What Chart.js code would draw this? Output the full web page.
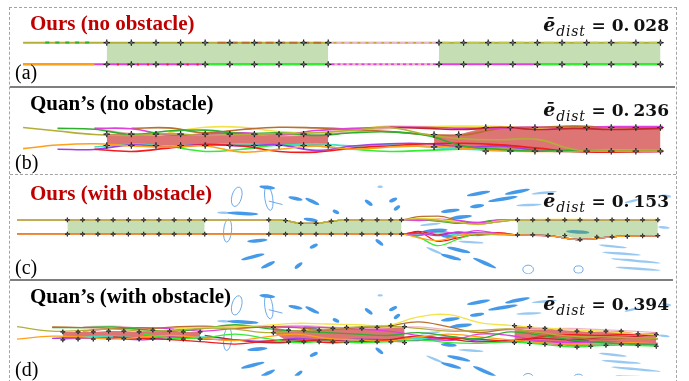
<!DOCTYPE html>
<html>
<head>
<meta charset="utf-8">
<script src="https://cdn.jsdelivr.net/npm/chart.js@4.4.1/dist/chart.umd.min.js"></script>
<style>
  html, body { margin: 0; padding: 0; background: #fff; }
  #fig { position: relative; width: 689px; height: 381px; overflow: hidden; background: #fff; }
  #fig canvas { position: absolute; }
  .frame { position: absolute; left: 9px; top: 7px; width: 666px; height: 380px;
           border: 1px dashed #a3a3a3; border-bottom: none; }
  .solid { position: absolute; left: 10px; height: 2px; background: #7f7f7f; }
  .dash  { position: absolute; left: 10px; width: 666px; border-top: 1px dashed #a3a3a3; }
  .title { position: absolute; left: 30px; font-family: "Liberation Serif", "Times New Roman", serif;
           font-weight: bold; font-size: 21px; line-height: 21px; white-space: nowrap; }
  .red { color: #c00000; }
  .tag { position: absolute; left: 15px; font-family: "Liberation Serif", "Times New Roman", serif;
         font-size: 20px; line-height: 20px; }
  .err { position: absolute; right: 20px; font-family: "DejaVu Serif", serif; font-weight: bold;
         font-size: 17px; line-height: 17px; white-space: nowrap; color: #111; }
  .err .e { font-style: italic; font-size: 19px; }
  .err .sub { font-size: 14px; font-weight: normal; font-style: italic; position: relative; top: 5px;
              line-height: 0; letter-spacing: 0.8px; margin-left: 1px; }
  .err .gap { margin-left: 4px; }
</style>
</head>
<body>
<div id="fig">
  <div class="frame"></div>
  <div class="solid" style="top:86px;width:665px"></div>
  <div class="dash" style="top:174px"></div>
  <div class="solid" style="top:279px;width:663px"></div>

  <canvas id="pa" width="666" height="78"  style="left:10px;top:8px"></canvas>
  <canvas id="pb" width="666" height="86"  style="left:10px;top:88px"></canvas>
  <canvas id="pc" width="666" height="104" style="left:10px;top:175px"></canvas>
  <canvas id="pd" width="666" height="100" style="left:10px;top:281px"></canvas>

  <div class="title red" style="top:13.4px">Ours (no obstacle)</div>
  <div class="title" style="top:93.4px">Quan’s (no obstacle)</div>
  <div class="title red" style="top:183.4px">Ours (with obstacle)</div>
  <div class="title" style="top:286.4px">Quan’s (with obstacle)</div>

  <div class="tag" style="top:62.3px">(a)</div>
  <div class="tag" style="top:152.3px">(b)</div>
  <div class="tag" style="top:257.3px">(c)</div>
  <div class="tag" style="top:359.3px">(d)</div>

  <div class="err" style="top:15.6px"><span class="e">ē</span><span class="sub">dist</span> = 0.<span class="gap">028</span></div>
  <div class="err" style="top:100.6px"><span class="e">ē</span><span class="sub">dist</span> = 0.<span class="gap">236</span></div>
  <div class="err" style="top:191.6px"><span class="e">ē</span><span class="sub">dist</span> = 0.<span class="gap">153</span></div>
  <div class="err" style="top:294.6px"><span class="e">ē</span><span class="sub">dist</span> = 0.<span class="gap">394</span></div>
</div>

<script>
// ---------------- colours of the robots ----------------
const OLIVE = '#b3ae38', GREEN = '#2fae2f', PINK = '#f2b5c8', MAGENTA = '#e040dc',
      BROWN = '#b8702c', YELLOW = '#f3e24c', ORANGE = '#ffa01c', PURPLE = '#a040e0',
      CYAN = '#3fe0c4', RED = '#f21c1c', LIME = '#34ec34', CRIMSON = '#c02830',
      YGREEN = '#c0c850';

// ---------------- (a) ours, no obstacle ----------------
// formation snapshots (x along the corridor, lateral y of the two rows)
const aForm1X = [4, 5, 6, 7, 8, 9, 10, 11, 12, 13];
const aForm2X = [17.5, 18.5, 19.5, 20.5, 21.5, 22.5, 23.5, 24.5, 25.5, 26.5];
const aFormTop = [0.5, 0.5, 0.5, 0.5, 0.5, 0.5, 0.5, 0.5, 0.5, 0.5];
const aFormBot = [-0.5, -0.5, -0.5, -0.5, -0.5, -0.5, -0.5, -0.5, -0.5, -0.5];
// robot traces (listed bottom layer first): start x, end x, lateral y
const aTrackColor = [OLIVE, BROWN, PINK, YGREEN, GREEN, MAGENTA, ORANGE, LIME, LIME, PINK, RED];
const aTrackStart = [0.6, 8.5, 13, 17.5, 1.5, 0.6, 0.6, 8, 21.5, 13, 4];
const aTrackEnd   = [26.6, 13, 17.5, 26.6, 3.5, 26.6, 3.5, 13, 26.6, 17.5, 8];
const aTrackY     = [0.5, 0.5, 0.49, 0.5, 0.51, -0.5, -0.5, -0.5, -0.5, -0.49, -0.51];
const aTrackDash  = [[], [8, 4], [5, 3], [10, 5], [4, 6], [], [], [], [], [3, 3], [2, 8]];

// ---------------- (b) Quan's, no obstacle ----------------
const bX = [0.6, 2, 3.5, 5, 6.5, 8, 9.5, 11, 12.5, 14, 15.5, 17, 18.5, 20, 21.5, 23, 24.5, 26.6];
const bOlive   = [0.54, 0.38, 0.22, 0.18, 0.26, 0.18, 0.22, 0.26, 0.3, 0.42, 0.54, 0.22, 0.02, -0.02, 0.0, -0.46, -0.54, -0.54];
const bGreen   = [null, 0.5, 0.46, 0.22, 0.38, 0.42, 0.26, 0.3, 0.18, 0.3, 0.34, 0.18, -0.3, -0.46, -0.54, -0.5, -0.54, -0.54];
const bPink    = [null, null, 0.5, 0.26, 0.2, 0.22, 0.26, 0.18, 0.22, 0.34, 0.5, 0.54, 0.54, 0.54, 0.54, 0.54, 0.54, 0.54];
const bMagenta = [null, null, 0.5, 0.48, 0.2, 0.24, 0.3, 0.2, 0.4, 0.5, 0.55, 0.55, 0.5, 0.52, 0.55, 0.5, 0.58, 0.58];
const bBrown   = [null, null, null, 0.5, 0.52, 0.3, 0.45, 0.55, 0.52, 0.45, 0.35, 0.22, 0.2, 0.5, 0.55, 0.6, 0.55, 0.52];
const bYellow  = [null, null, null, null, 0.3, 0.55, 0.55, 0.35, 0.3, 0.45, 0.6, 0.58, 0.6, 0.58, 0.5, 0.6, 0.55, 0.55];
const bOrange  = [-0.42, -0.26, -0.2, -0.3, -0.35, -0.3, -0.58, -0.45, -0.3, -0.45, -0.35, -0.3, -0.4, -0.52, -0.55, -0.55, -0.5, -0.52];
const bPurple  = [null, -0.45, -0.46, -0.25, -0.35, -0.22, -0.3, -0.25, -0.5, -0.3, -0.2, -0.2, -0.35, -0.3, -0.5, -0.55, -0.55, -0.55];
const bCyan    = [null, null, -0.35, -0.22, -0.3, -0.25, -0.2, -0.28, -0.2, -0.3, -0.25, -0.35, -0.45, -0.5, -0.52, -0.52, -0.5, -0.5];
const bRed     = [null, null, -0.45, -0.55, -0.4, -0.25, -0.3, -0.55, -0.58, -0.4, -0.3, -0.2, -0.18, -0.25, -0.4, -0.55, -0.58, -0.55];
const bLime    = [null, null, null, null, -0.3, -0.55, -0.45, -0.25, -0.3, -0.45, -0.55, -0.5, -0.45, -0.45, -0.5, -0.55, -0.54, -0.54];
const bCrimson = [null, null, null, null, null, null, null, null, null, null, 0.55, 0.5, 0.45, 0.55, 0.45, 0.5, 0.45, 0.5];
const bForm1X   = [4, 5, 6, 7, 8, 9, 10, 11, 12, 13];
const bForm1Top = [0.24, 0.24, 0.24, 0.24, 0.24, 0.24, 0.24, 0.24, 0.24, 0.24];
const bForm1Bot = [-0.28, -0.28, -0.28, -0.28, -0.28, -0.28, -0.28, -0.28, -0.28, -0.28];
const bForm2X   = [17.3, 18.3, 19.4, 20.4, 21.4, 22.4, 23.5, 24.5, 25.5, 26.5];
const bForm2Top = [0.22, 0.22, 0.54, 0.54, 0.54, 0.54, 0.54, 0.54, 0.54, 0.54];
const bForm2Bot = [-0.34, -0.34, -0.54, -0.54, -0.54, -0.54, -0.54, -0.54, -0.54, -0.54];

// ---------------- (c) ours, with obstacles ----------------
const cX = [0.7, 4, 13, 17.2, 18.3, 19.3, 20.3, 21.3, 22.3, 25.9, 27, 28.3, 29.6, 30.9, 32.2, 33.5, 35.5, 37.6, 39.7, 42.7];
const cOlive    = [0.5, 0.5, 0.5, 0.5, 0.45, 0.25, 0.25, 0.4, 0.5, 0.5, 0.55, 0.45, 0.3, 0.2, 0.35, 0.5, 0.5, 0.5, 0.5, 0.5];
const cYellow   = [0.5, 0.5, 0.5, 0.5, 0.45, 0.25, 0.25, 0.4, 0.5, 0.5, 0.6, 0.55, 0.35, 0.15, 0.4, 0.5, 0.52, 0.52, 0.5, 0.52];
const cBrown    = [0.5, 0.5, 0.5, 0.5, 0.45, 0.25, 0.25, 0.4, 0.5, 0.5, 0.72, 0.75, 0.45, 0.2, 0.35, 0.5, 0.5, 0.48, 0.5, 0.48];
const cMagenta  = [0.5, 0.5, 0.5, 0.5, 0.45, 0.25, 0.25, 0.4, 0.5, 0.5, 0.45, 0.55, 0.45, 0.3, 0.45, 0.5, 0.5, 0.5, 0.5, 0.5];
const cGreen    = [0.5, 0.5, 0.5, 0.5, 0.45, 0.25, 0.25, 0.4, 0.5, 0.5, 0.5, 0.4, 0.25, 0.3, 0.5, 0.5, 0.5, 0.5, 0.5, 0.5];
const cPink     = [0.5, 0.5, 0.5, 0.5, 0.45, 0.25, 0.25, 0.4, 0.5, 0.5, 0.55, 0.5, 0.4, 0.35, 0.45, 0.5, 0.5, 0.5, 0.5, 0.5];
const cOrange   = [-0.5, -0.5, -0.5, -0.5, -0.5, -0.5, -0.5, -0.5, -0.5, -0.5, -0.75, -0.95, -0.6, -0.45, -0.5, -0.55, -0.6, -0.87, -0.68, -0.6];
const cRed      = [-0.5, -0.5, -0.5, -0.5, -0.5, -0.5, -0.5, -0.5, -0.5, -0.5, -0.35, -1.0, -0.75, -0.5, -0.4, -0.55, -0.6, -0.87, -0.68, -0.6];
const cLime     = [-0.5, -0.5, -0.5, -0.5, -0.5, -0.5, -0.5, -0.5, -0.5, -0.5, -0.7, -1.3, -0.85, -0.45, -0.55, -0.55, -0.6, -0.87, -0.68, -0.6];
const cCyan     = [-0.5, -0.5, -0.5, -0.5, -0.5, -0.5, -0.5, -0.5, -0.5, -0.5, -0.55, -0.4, -0.55, -0.6, -0.5, -0.55, -0.6, -0.87, -0.68, -0.6];
const cMagentaB = [-0.5, -0.5, -0.5, -0.5, -0.5, -0.5, -0.5, -0.5, -0.5, -0.5, -0.6, -0.3, -0.45, -0.25, -0.45, -0.55, -0.6, -0.87, -0.68, -0.6];
const cPurple   = [-0.5, -0.5, -0.5, -0.5, -0.5, -0.5, -0.5, -0.5, -0.5, -0.5, -0.45, -0.6, -0.35, -0.4, -0.5, -0.55, -0.6, -0.87, -0.68, -0.6];
const cCrimson  = [-0.5, -0.5, -0.5, -0.5, -0.5, -0.5, -0.5, -0.5, -0.5, -0.5, -0.3, -0.55, -0.35, -0.55, -0.45, -0.55, -0.6, -0.87, -0.68, -0.6];
const cForm1X   = [4, 5, 6, 7, 8, 9, 10, 11, 12, 13];
const cForm1Top = [0.5, 0.5, 0.5, 0.5, 0.5, 0.5, 0.5, 0.5, 0.5, 0.5];
const cForm1Bot = [-0.5, -0.5, -0.5, -0.5, -0.5, -0.5, -0.5, -0.5, -0.5, -0.5];
const cForm2X   = [17.2, 18.3, 19.3, 20.3, 21.3, 22.3, 23.3, 24.3, 25.2, 25.9];
const cForm2Top = [0.5, 0.45, 0.25, 0.25, 0.4, 0.5, 0.5, 0.5, 0.5, 0.5];
const cForm2Bot = [-0.5, -0.5, -0.5, -0.5, -0.5, -0.5, -0.5, -0.5, -0.5, -0.5];
const cForm3X   = [33.5, 34.5, 35.5, 36.6, 37.6, 38.7, 39.7, 40.7, 41.7, 42.7];
const cForm3Top = [0.5, 0.5, 0.5, 0.5, 0.5, 0.5, 0.5, 0.5, 0.5, 0.5];
const cForm3Bot = [-0.55, -0.55, -0.6, -0.6, -0.87, -0.7, -0.68, -0.65, -0.62, -0.6];

// ---------------- (d) Quan's, with obstacles ----------------
const dX = [0.7, 3, 5, 7, 9, 11, 13, 15, 17, 19, 21, 23, 25, 27, 29, 31, 33, 35, 37, 39, 41, 42.7];
const dYellow  = [null, null, null, null, null, 0.45, 0.55, 0.6, 0.7, 0.85, 0.8, 0.75, 0.7, 1.3, 1.45, 0.9, 0.7, 0.55, 0.4, 0.3, 0.15, 0.08];
const dOlive   = [0.62, 0.3, 0.35, 0.45, 0.3, 0.35, 0.5, 0.45, 0.2, 0.3, 0.45, 0.6, 0.65, 0.5, 0.3, 0.35, 0.45, 0.2, -0.05, -0.1, -0.15, -0.2];
const dBrown   = [null, 0.6, 0.55, 0.5, 0.45, 0.6, 0.65, 0.5, 0.6, 0.55, 0.4, 0.55, 0.65, 0.95, 0.6, 0.2, 0.45, 0.15, -0.1, -0.3, -0.15, -0.25];
const dGreen   = [null, 0.55, 0.55, 0.6, 0.4, 0.3, 0.5, 0.75, 0.5, 0.3, 0.2, 0.1, 0.0, 0.2, -0.05, -0.2, 0.25, 0.0, -0.3, -0.5, -0.6, -0.6];
const dMagenta = [null, null, 0.3, 0.5, 0.55, 0.45, 0.3, 0.5, 0.6, 0.6, 0.55, 0.45, 0.3, 0.0, -0.35, 0.1, 0.0, -0.4, -0.5, -0.45, -0.5, -0.55];
const dPink    = [null, null, 0.6, 0.65, 0.5, 0.55, 0.6, 0.65, 0.6, 0.7, 0.6, 0.5, 0.55, 0.6, 0.4, 0.3, 0.4, 0.45, 0.5, 0.4, 0.3, 0.2];
const dOrange  = [-0.25, -0.05, -0.1, -0.25, -0.1, 0.0, -0.2, -0.35, -0.1, 0.1, -0.2, -0.3, -0.4, -0.1, 0.1, -0.1, -0.3, -0.5, -0.6, -0.55, -0.5, -0.55];
const dPurple  = [null, -0.2, -0.15, -0.2, -0.3, -0.1, -0.25, -0.3, -0.4, -0.2, -0.35, -0.25, -0.3, -0.35, -0.1, -0.4, -0.45, -0.4, -0.5, -0.45, -0.55, -0.6];
const dCyan    = [null, null, -0.1, -0.05, -0.2, -0.25, -0.1, -0.3, -0.45, -0.35, -0.45, -0.4, -0.3, -0.2, -0.15, -0.3, -0.4, -0.5, -0.55, -0.6, -0.55, -0.6];
const dRed     = [null, null, null, -0.1, -0.2, -0.3, -0.45, -0.6, -0.4, -0.3, -0.5, -0.45, -0.35, -0.1, -0.2, -0.25, -0.4, -0.1, 0.05, 0.0, 0.1, 0.15];
const dLime    = [null, null, null, null, 0.1, -0.2, -0.15, 0.1, -0.2, -0.5, -0.4, -0.5, -0.45, -0.3, -0.5, -0.55, -0.45, -0.6, -0.8, -0.7, -0.68, -0.75];
const dCrimson = [null, null, null, null, null, null, 0.0, -0.3, -0.5, -0.45, -0.3, -0.5, -0.3, -0.05, -0.25, -0.45, -0.35, -0.2, -0.3, -0.15, -0.1, 0.1];
const dForm1X   = [3.7, 4.7, 5.7, 6.7, 7.7, 8.7, 9.6, 10.7, 11.6, 12.7];
const dForm1Top = [0.25, 0.25, 0.25, 0.31, 0.31, 0.25, 0.38, 0.31, 0.25, 0.25];
const dForm1Bot = [-0.3, -0.25, -0.25, -0.25, -0.22, -0.25, -0.22, -0.25, -0.25, -0.25];
const dForm2X   = [17.5, 18.5, 19.5, 20.5, 21.4, 22.3, 23.3, 24.3, 25.2, 26.1];
const dForm2Top = [0.56, 0.38, 0.38, 0.38, 0.5, 0.56, 0.5, 0.56, 0.69, 0.62];
const dForm2Bot = [0.19, -0.44, -0.44, -0.44, -0.44, -0.5, -0.38, -0.44, -0.44, -0.5];
const dForm3X   = [33.3, 34.3, 35.3, 36.3, 37.4, 38.3, 39.3, 40.3, 41.4, 42.6];
const dForm3Top = [0.69, 0.62, 0.5, 0.38, 0.31, 0.25, 0.31, 0.31, 0.12, 0.06];
const dForm3Bot = [-0.5, -0.56, -0.62, -0.69, -0.81, -0.75, -0.69, -0.62, -0.69, -0.75];

// ---------------- obstacles (same field for (c) and (d)) ----------------
// moving obstacles, swept over the run: [x1, y1, x2, y2]
const obsStreaks = [
  [16.7, 2.8, 17.5, 2.7], [14.6, 0.98, 16.4, 0.9], [18.6, 2.05, 19.3, 1.9], [19.7, 1.95, 20.4, 1.6],
  [21.5, 1.1, 21.7, 1.0], [19.6, 0.56, 20.3, 0.44], [15.9, -1.0, 17.0, -0.9], [20.0, -1.4, 20.3, -1.25],
  [15.5, -2.25, 16.8, -1.9], [16.8, -2.8, 17.5, -2.45], [19.0, -2.8, 19.3, -2.55], [23.6, 1.8, 23.9, 1.56],
  [25.2, 1.8, 25.5, 1.95], [25.5, 1.25, 25.7, 1.4], [28.6, 1.06, 29.6, 1.19], [29.2, 0.62, 30.4, 0.75],
  [30.3, 2.2, 31.6, 2.45], [32.8, 2.3, 34.2, 2.6], [31.7, 1.8, 33.4, 2.1], [24.3, -0.94, 24.6, -1.2],
  [27.4, -0.3, 28.8, -0.2], [28.6, -0.62, 29.4, -0.69], [29.0, -1.44, 30.3, -1.75], [28.6, -1.94, 29.7, -2.25],
  [30.7, -2.2, 32.0, -2.8], [36.8, -0.31, 38.1, -0.38], [30.5, 1.4, 31.2, 1.5]
];
const obsFaint = [
  [13.9, 1.0, 14.6, 0.98], [33.5, 1.5, 35.0, 1.56], [27.6, -1.44, 28.6, -1.9], [29.7, -1.0, 31.2, -1.1],
  [38.9, -1.25, 40.6, -1.44], [39.1, -1.75, 41.5, -1.94], [39.7, -2.2, 42.8, -2.5], [40.0, -2.8, 42.8, -3.0],
  [43.0, 2.2, 43.6, 2.1], [42.8, 0.0, 43.4, -0.06], [27.2, 0.12, 28.4, 0.25], [40.6, 1.7, 41.4, 1.9],
  [24.4, 2.8, 24.6, 2.8], [34.5, 2.3, 36.0, 2.45]
];
// static obstacles: [x, y, semi-axis x, semi-axis y, tilt in degrees]
const obsRings = [
  [15.1, 2.1, 0.32, 0.69, 15], [17.2, 2.0, 0.26, 0.85, -8], [14.5, -0.25, 0.26, 0.8, 5],
  [34.2, -2.95, 0.35, 0.3, 0], [37.5, -2.95, 0.3, 0.25, 0]
];
const obsHeading = [[17.2, 1.8, 18.1, 1.56]];

// ---------------- dataset builders ----------------
function track(xs, ys, color, width, dash) {
  const pts = [];
  xs.forEach((x, i) => { if (ys[i] !== null) pts.push({ x: x, y: ys[i] }); });
  return { data: pts, borderColor: color, borderWidth: width, borderDash: dash || [],
           pointRadius: 0, fill: false, tension: 0.4, order: 2 };
}
// traces listed first go underneath, later ones on top
function layered(list) {
  list.forEach((t, i) => { t.order = 2 - i * 0.01; });
  return list;
}
function band(xs, top, bot, color) {
  const clear = 'rgba(0,0,0,0)';
  return [
    { data: xs.map((x, i) => ({ x: x, y: top[i] })), borderColor: clear, backgroundColor: color,
      fill: '+1', pointRadius: 0, tension: 0, order: 5 },
    { data: xs.map((x, i) => ({ x: x, y: bot[i] })), borderColor: clear, fill: false,
      pointRadius: 0, tension: 0, order: 5 }
  ];
}
function markers(xs, top, bot, r) {
  const pts = xs.map((x, i) => ({ x: x, y: top[i] })).concat(xs.map((x, i) => ({ x: x, y: bot[i] })));
  return [
    { data: pts, showLine: false, pointStyle: 'cross', pointRadius: r, pointBorderColor: '#1a1a1a',
      pointBorderWidth: 1.2, order: 1 },
    { data: pts, showLine: false, pointStyle: 'circle', pointRadius: r * 0.42, pointBorderColor: '#333',
      pointBackgroundColor: 'rgba(255,255,255,0.4)', pointBorderWidth: 0.8, order: 0 }
  ];
}

const obstaclePlugin = {
  id: 'obstacles',
  beforeDatasetsDraw(chart) {
    const { ctx, chartArea: a, scales: { x, y } } = chart;
    ctx.save();
    ctx.beginPath(); ctx.rect(a.left, a.top, a.right - a.left, a.bottom - a.top); ctx.clip();
    const streak = (s, half, color) => {
      const x1 = x.getPixelForValue(s[0]), y1 = y.getPixelForValue(s[1]);
      const x2 = x.getPixelForValue(s[2]), y2 = y.getPixelForValue(s[3]);
      const len = Math.hypot(x2 - x1, y2 - y1) / 2 + half;
      ctx.fillStyle = color;
      ctx.beginPath();
      ctx.ellipse((x1 + x2) / 2, (y1 + y2) / 2, len, half, Math.atan2(y2 - y1, x2 - x1), 0, Math.PI * 2);
      ctx.fill();
    };
    ctx.filter = 'blur(0.5px)';
    obsFaint.forEach(s => streak(s, 1.2, 'rgba(110,178,238,0.7)'));
    obsStreaks.forEach(s => streak(s, 1.8, 'rgba(35,135,228,0.85)'));
    ctx.filter = 'none';
    ctx.strokeStyle = 'rgba(85,155,228,0.85)';
    ctx.lineWidth = 1;
    obsRings.forEach(r => {
      const cx = x.getPixelForValue(r[0]), cy = y.getPixelForValue(r[1]);
      const rx = Math.abs(x.getPixelForValue(r[0] + r[2]) - cx);
      const ry = Math.abs(y.getPixelForValue(r[1] + r[3]) - cy);
      ctx.beginPath();
      ctx.ellipse(cx, cy, rx, ry, r[4] * Math.PI / 180, 0, Math.PI * 2);
      ctx.stroke();
    });
    obsHeading.forEach(s => {
      ctx.beginPath();
      ctx.moveTo(x.getPixelForValue(s[0]), y.getPixelForValue(s[1]));
      ctx.lineTo(x.getPixelForValue(s[2]), y.getPixelForValue(s[3]));
      ctx.stroke();
    });
    ctx.restore();
  }
};

function makeChart(id, datasets, xr, yr, plugins) {
  return new Chart(document.getElementById(id), {
    type: 'line',
    data: { datasets: datasets },
    options: {
      responsive: false, animation: false, devicePixelRatio: 1, events: [],
      layout: { padding: 0 },
      plugins: { legend: { display: false }, tooltip: { enabled: false } },
      scales: {
        x: { type: 'linear', min: xr[0], max: xr[1], display: false },
        y: { type: 'linear', min: yr[0], max: yr[1], display: false }
      }
    },
    plugins: plugins || []
  });
}

const GREEN_FILL = 'rgba(110,172,68,0.4)';
const RED_FILL = 'rgba(200,25,25,0.6)';

// ---- (a)
const aSets = [];
aSets.push(...band(aForm1X, aFormTop, aFormBot, GREEN_FILL));
aSets.push(...band(aForm2X, aFormTop, aFormBot, GREEN_FILL));
aSets.push(...layered(aTrackColor.map((c, i) =>
  track([aTrackStart[i], aTrackEnd[i]], [aTrackY[i], aTrackY[i]], c, 2, aTrackDash[i]))));
aSets.push(...markers(aForm1X, aFormTop, aFormBot, 3.2));
aSets.push(...markers(aForm2X, aFormTop, aFormBot, 3.2));
makeChart('pa', aSets, [0.28, 26.92], [-1.26, 1.86]);

// ---- (b)
const bSets = [];
bSets.push(...band(bForm1X, bForm1Top, bForm1Bot, RED_FILL));
bSets.push(...band(bForm2X, bForm2Top, bForm2Bot, RED_FILL));
bSets.push(...layered([[bLime, LIME], [bCyan, CYAN], [bPurple, PURPLE], [bRed, RED], [bOrange, ORANGE],
  [bPink, PINK], [bYellow, YELLOW], [bBrown, BROWN], [bMagenta, MAGENTA], [bGreen, GREEN], [bCrimson, CRIMSON], [bOlive, OLIVE]]
  .map(([ys, c]) => track(bX, ys, c, 1.6))));
bSets.push(...markers(bForm1X, bForm1Top, bForm1Bot, 3.2));
bSets.push(...markers(bForm2X, bForm2Top, bForm2Bot, 3.2));
makeChart('pb', bSets, [0.28, 26.92], [-1.34, 2.1]);

// ---- (c)
const cSets = [];
cSets.push(...band(cForm1X, cForm1Top, cForm1Bot, GREEN_FILL));
cSets.push(...band(cForm2X, cForm2Top, cForm2Bot, GREEN_FILL));
cSets.push(...band(cForm3X, cForm3Top, cForm3Bot, GREEN_FILL));
cSets.push(...layered([[cPink, PINK], [cBrown, BROWN], [cGreen, GREEN], [cMagenta, MAGENTA], [cYellow, YELLOW], [cOlive, OLIVE],
  [cCyan, CYAN], [cCrimson, CRIMSON], [cRed, RED], [cPurple, PURPLE], [cLime, LIME], [cMagentaB, MAGENTA], [cOrange, ORANGE]]
  .map(([ys, c]) => { const t = track(cX, ys, c, 1.3); t.cubicInterpolationMode = 'monotone'; return t; })));
cSets.push(...markers(cForm1X, cForm1Top, cForm1Bot, 2.4));
cSets.push(...markers(cForm2X, cForm2Top, cForm2Bot, 2.4));
cSets.push(...markers(cForm3X, cForm3Top, cForm3Bot, 2.4));
makeChart('pc', cSets, [0.58, 43.55], [-3.25, 3.25], [obstaclePlugin]);

// ---- (d)
const dSets = [];
dSets.push(...band(dForm1X, dForm1Top, dForm1Bot, RED_FILL));
dSets.push(...band(dForm2X, dForm2Top, dForm2Bot, RED_FILL));
dSets.push(...band(dForm3X, dForm3Top, dForm3Bot, RED_FILL));
dSets.push(...layered([[dPink, PINK], [dCyan, CYAN], [dPurple, PURPLE], [dMagenta, MAGENTA], [dCrimson, CRIMSON], [dRed, RED],
  [dBrown, BROWN], [dOrange, ORANGE], [dLime, LIME], [dGreen, GREEN], [dYellow, YELLOW], [dOlive, OLIVE]]
  .map(([ys, c]) => track(dX, ys, c, 1.3))));
dSets.push(...markers(dForm1X, dForm1Top, dForm1Bot, 2.4));
dSets.push(...markers(dForm2X, dForm2Top, dForm2Bot, 2.4));
dSets.push(...markers(dForm3X, dForm3Top, dForm3Bot, 2.4));
makeChart('pd', dSets, [0.58, 43.55], [-2.8125, 3.4375], [obstaclePlugin]);
</script>
</body>
</html>
